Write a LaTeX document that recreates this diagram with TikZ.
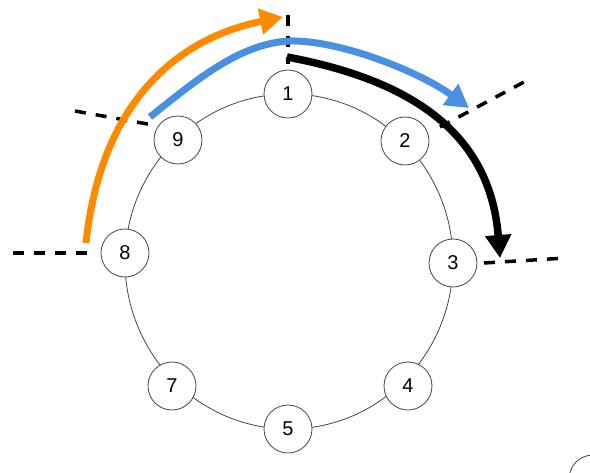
\documentclass[tikz,border=0pt]{standalone}
\usepackage{fontspec}
\setmainfont{Liberation Sans}
\usetikzlibrary{arrows.meta}
\definecolor{flowOrange}{HTML}{FF8A00}
\definecolor{flowBlue}{HTML}{4A90E2}
\definecolor{ringGray}{HTML}{444444}
\begin{document}
\begin{tikzpicture}[x=1pt,y=-1pt,
  ringnode/.style={circle, draw=ringGray, fill=white, line width=0.8pt,
    minimum size=48pt, inner sep=0pt, font=\fontsize{20}{23}\selectfont},
  cutline/.style={line width=3.5pt, dash pattern=on 11pt off 10pt},
  flow/.style={line width=7pt, -{Triangle[length=23pt,width=25pt]}}]
\useasboundingbox (0,0) rectangle (590,473);
\clip (0,0) rectangle (590,473);
% ring
\draw[ringGray, line width=0.8pt] (289,261.5) ellipse [x radius=164, y radius=167.5];
% nodes
\node[ringnode] (n1) at (288,94) {1};
\node[ringnode] (n2) at (405,141) {2};
\node[ringnode] (n3) at (453,263) {3};
\node[ringnode] (n4) at (408,386) {4};
\node[ringnode] (n5) at (288,429) {5};
\node[ringnode] (n7) at (172,386) {7};
\node[ringnode] (n8) at (125,253) {8};
\node[ringnode] (n9) at (178,140) {9};
\node[ringnode] (nx) at (593,479) {};
% cut lines
\coordinate (ta) at (288,15);   \coordinate (tb) at (288,64);
\coordinate (la) at (75,111);   \coordinate (lb) at (153,125);
\coordinate (ra) at (440,127);  \coordinate (rb) at (524,82);
\coordinate (ha) at (13,253);   \coordinate (hb) at (95,253);
\coordinate (sa) at (484,263);  \coordinate (sb) at (566,258);
\draw[cutline] (ta) -- (tb);
\draw[cutline] (la) -- (lb);
\draw[cutline] (ha) -- (hb);
\draw[cutline] (sa) -- (sb);
% flows
\coordinate (o1) at (86,243);  \coordinate (o2) at (283,17);
\draw[flow, flowOrange] (o1) .. controls (100,110) and (170,40) .. (o2);
\coordinate (b1) at (150,117); \coordinate (bm) at (290,41); \coordinate (b2) at (469,108);
\draw[flow, flowBlue] (b1) .. controls (195,81) and (240,43) .. (bm)
  .. controls (340,40) and (420,72) .. (b2);
\coordinate (k1) at (287,57);  \coordinate (k2) at (500,258);
\draw[flow, black, line width=7.5pt] (k1) .. controls (410,80) and (490,132) .. (k2);
\draw[cutline] (ra) -- (rb);
\end{tikzpicture}
\end{document}
